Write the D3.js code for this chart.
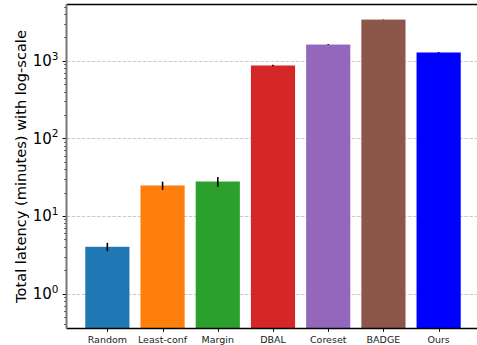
<!DOCTYPE html>
<html>
<head>
<meta charset="utf-8">
<script src="https://cdn.jsdelivr.net/npm/d3@7"></script>
<style>
  html, body { margin: 0; padding: 0; background: #fff; }
  svg { display: block; font-family: "DejaVu Sans", sans-serif; }
</style>
</head>
<body>
<svg id="chart" width="477" height="345"></svg>
<script>
// Total latency per selection method (minutes), log-scaled y axis
const methods = ["Random", "Least-conf", "Margin", "DBAL", "Coreset", "BADGE", "Ours"];
const latency = [4.0, 24.7, 27.8, 870, 1620, 3400, 1280];
const latencyErr = [0.5, 3.0, 4.0, 20, 20, 20, 20];
const barColors = ["#1f77b4", "#ff7f0e", "#2ca02c", "#d62728", "#9467bd", "#8c564b", "#0000ff"];
const yTicks = [1, 10, 100, 1000];
const yExponents = ["0", "1", "2", "3"];

const svg = d3.select("#chart");
const plot = { left: 66.5, right: 479.5, top: 4.5, bottom: 328.5 };

// Band positions mimic bar width 0.8 with 0.05 axis margins
const step = (plot.right - plot.left) / 7.48;
const xCenter = d3.scaleLinear().domain([-0.74, 6.74]).range([plot.left, plot.right]);
const barW = 0.8 * step;

const y = d3.scaleLog().domain([0.354, 5320]).range([plot.bottom, plot.top]);

// Grid lines at decades
svg.append("g").selectAll("line").data(yTicks).join("line")
  .attr("x1", plot.left).attr("x2", plot.right)
  .attr("y1", d => Math.round(y(d)) + 0.5).attr("y2", d => Math.round(y(d)) + 0.5)
  .attr("stroke", "#c4c4c4").attr("stroke-width", 0.9)
  .attr("stroke-dasharray", "3.5,1.6");

// Bars
svg.append("g").selectAll("rect").data(methods).join("rect")
  .attr("x", (d, i) => xCenter(i) - barW / 2)
  .attr("width", barW)
  .attr("y", (d, i) => y(latency[i]))
  .attr("height", (d, i) => plot.bottom - y(latency[i]))
  .attr("fill", (d, i) => barColors[i]);

// Error bars
svg.append("g").selectAll("line").data(methods).join("line")
  .attr("x1", (d, i) => xCenter(i)).attr("x2", (d, i) => xCenter(i))
  .attr("y1", (d, i) => y(latency[i] + latencyErr[i]))
  .attr("y2", (d, i) => y(latency[i] - latencyErr[i]))
  .attr("stroke", "#000").attr("stroke-width", 1.6);

// Y axis: major and minor ticks
const minorTicks = [];
for (let e = -1; e <= 3; e++) {
  for (let m = 2; m <= 9; m++) {
    const v = m * Math.pow(10, e);
    if (v >= y.domain()[0] && v <= y.domain()[1]) minorTicks.push(v);
  }
}
const axisG = svg.append("g");
axisG.selectAll("line.minor").data(minorTicks).join("line")
  .attr("class", "minor")
  .attr("x1", plot.left - 2.2).attr("x2", plot.left)
  .attr("y1", d => Math.round(y(d)) + 0.5).attr("y2", d => Math.round(y(d)) + 0.5)
  .attr("stroke", "#000").attr("stroke-width", 0.8);
axisG.selectAll("line.major").data(yTicks).join("line")
  .attr("class", "major")
  .attr("x1", plot.left - 3.8).attr("x2", plot.left)
  .attr("y1", d => Math.round(y(d)) + 0.5).attr("y2", d => Math.round(y(d)) + 0.5)
  .attr("stroke", "#000").attr("stroke-width", 1);

const lbl = axisG.selectAll("text.ytick").data(yTicks).join("text")
  .attr("class", "ytick")
  .attr("x", 58.5)
  .attr("y", d => y(d) + 5.5)
  .attr("text-anchor", "end")
  .attr("font-size", 15)
  .attr("fill", "#000");
lbl.append("tspan").text("10");
lbl.append("tspan").attr("dy", -6.5).attr("font-size", 10.5).text((d, i) => yExponents[i]);

// X ticks and labels
const xg = svg.append("g");
xg.selectAll("line").data(methods).join("line")
  .attr("x1", (d, i) => Math.round(xCenter(i)) + 0.5).attr("x2", (d, i) => Math.round(xCenter(i)) + 0.5)
  .attr("y1", plot.bottom).attr("y2", plot.bottom + 3.5)
  .attr("stroke", "#000").attr("stroke-width", 0.9);
xg.selectAll("text").data(methods).join("text")
  .attr("x", (d, i) => xCenter(i))
  .attr("y", plot.bottom + 14)
  .attr("text-anchor", "middle")
  .attr("font-size", 9.5)
  .attr("fill", "#222")
  .text(d => d);

// Spines
svg.append("line").attr("x1", plot.left).attr("x2", plot.right)
  .attr("y1", plot.top).attr("y2", plot.top).attr("stroke", "#000").attr("stroke-width", 1.3);
svg.append("line").attr("x1", plot.left).attr("x2", plot.right)
  .attr("y1", plot.bottom).attr("y2", plot.bottom).attr("stroke", "#000").attr("stroke-width", 1.3);
svg.append("line").attr("x1", plot.left).attr("x2", plot.left)
  .attr("y1", plot.top).attr("y2", plot.bottom).attr("stroke", "#777").attr("stroke-width", 2);

// Y axis title
svg.append("text")
  .attr("transform", `translate(25.5,${(plot.top + plot.bottom) / 2}) rotate(-90)`)
  .attr("text-anchor", "middle")
  .attr("font-size", 14.6)
  .attr("fill", "#000")
  .text("Total latency (minutes) with log-scale");
</script>
</body>
</html>
